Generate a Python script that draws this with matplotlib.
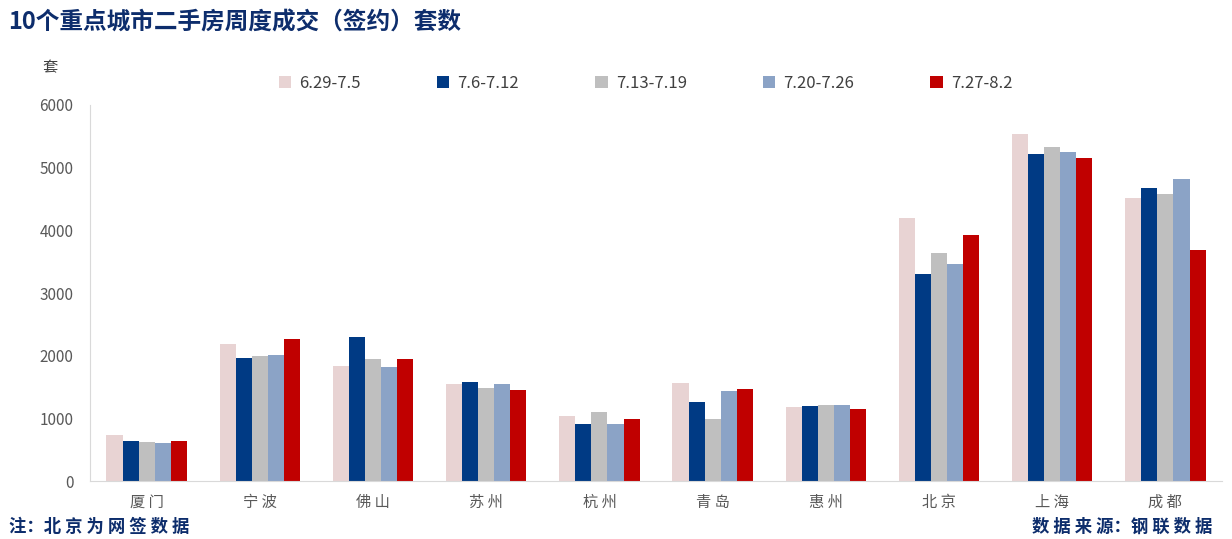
import numpy as np
import matplotlib
matplotlib.use("Agg")
import matplotlib.pyplot as plt

plt.rcParams['font.family'] = ['Noto Sans CJK SC', 'DejaVu Sans']

cities = ["厦门", "宁波", "佛山", "苏州", "杭州", "青岛", "惠州", "北京", "上海", "成都"]
weeks = ["6.29-7.5", "7.6-7.12", "7.13-7.19", "7.20-7.26", "7.27-8.2"]

w1 = [740, 2190, 1840, 1550, 1040, 1565, 1185, 4200, 5540, 4520]
w2 = [640, 1965, 2300, 1585, 910, 1265, 1200, 3305, 5220, 4675]
w3 = [625, 1995, 1950, 1485, 1100, 990, 1215, 3640, 5330, 4580]
w4 = [610, 2015, 1820, 1550, 910, 1440, 1215, 3465, 5250, 4820]
w5 = [640, 2270, 1950, 1455, 990, 1470, 1150, 3925, 5155, 3690]

colors = ["#E8D3D3", "#003A84", "#BFBFBF", "#8BA3C6", "#C00000"]

fig = plt.figure(figsize=(12.32, 5.39), dpi=100)
ax = fig.add_axes([0.0731, 0.1076, 0.9188, 0.6976])

x = np.arange(len(cities))
bw = 0.142
for i, vals in enumerate([w1, w2, w3, w4, w5]):
	ax.bar(x + (i - 2) * bw, vals, width=bw, color=colors[i], label=weeks[i])

ax.set_xlim(-0.5, len(cities) - 0.5)
ax.set_ylim(0, 6000)
ax.set_yticks(range(0, 6001, 1000))
ax.set_xticks(x)
ax.set_xticklabels([" ".join(c) for c in cities], fontsize=11, color="#595959")
ax.tick_params(axis='y', labelsize=11, colors="#595959", length=0, pad=12)
ax.tick_params(axis='x', length=0, pad=9)

for s in ["top", "right"]:
	ax.spines[s].set_visible(False)
for s in ["left", "bottom"]:
	ax.spines[s].set_color("#D9D9D9")

leg = fig.legend(loc="center", bbox_to_anchor=(0.524, 0.845), ncol=5, frameon=False,
	fontsize=12, handlelength=0.75, handleheight=0.75, columnspacing=4.55, handletextpad=0.5)
for t in leg.get_texts():
	t.set_color("#404040")

fig.text(0.007, 0.958, "10个重点城市二手房周度成交（签约）套数", fontsize=17,
	fontweight="bold", color="#0D2D6C", va="center", ha="left")
fig.text(0.041, 0.874, "套", fontsize=11, color="#404040", va="center", ha="center")
fig.text(0.007, 0.022, "注：" + " ".join("北京为网签数据"), fontsize=12.5, fontweight="bold",
	color="#0D2D6C", va="center", ha="left")
fig.text(0.984, 0.022, " ".join("数据来源") + "：" + " ".join("钢联数据"), fontsize=12.5,
	fontweight="bold", color="#0D2D6C", va="center", ha="right")

fig.savefig("out.png", dpi=100)
